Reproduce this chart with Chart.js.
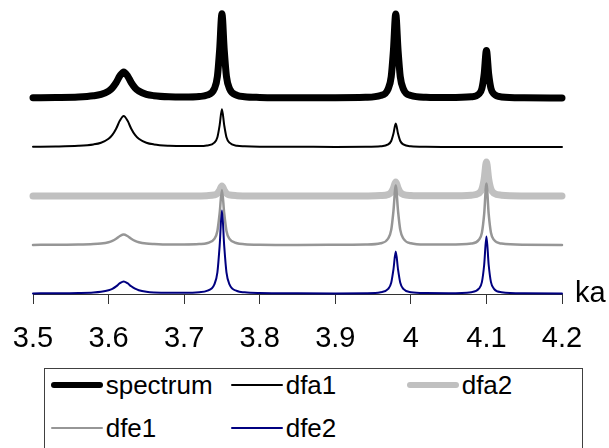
<!DOCTYPE html>
<html>
<head>
<meta charset="utf-8">
<script src="https://cdn.jsdelivr.net/npm/chart.js@4.4.0/dist/chart.umd.min.js"></script>
<style>
  html, body { margin: 0; padding: 0; background: #fff; }
  #wrap { position: relative; width: 609px; height: 448px; overflow: hidden; font-family: "Liberation Sans", Arial, sans-serif; }
  #legend { position: absolute; left: 44px; top: 368px; width: 537px; height: 120px; border: 1px solid #404040; background: #fff; }
  .item { position: absolute; height: 30px; display: flex; align-items: center; }
  .swatch { width: 52px; }
  .item span { font-size: 26px; line-height: 30px; margin-left: 3px; color: #000; white-space: nowrap; }
</style>
</head>
<body>
<div id="wrap">
  <canvas id="chart"></canvas>
  <div id="legend"></div>
</div>
<script>
// x positions (ka) and the stacked traces
const kaValues = [3.50, 3.53, 3.56, 3.58, 3.59, 3.60, 3.605, 3.61, 3.615, 3.62, 3.625, 3.63, 3.635, 3.64, 3.65, 3.66, 3.68, 3.70, 3.72, 3.73,
  3.74, 3.744, 3.747, 3.75, 3.753, 3.756, 3.76, 3.77, 3.78, 3.80, 3.85, 3.90, 3.94, 3.96, 3.97, 3.974, 3.977, 3.98, 3.983, 3.986,
  3.99, 4.00, 4.02, 4.05, 4.08, 4.09, 4.094, 4.097, 4.10, 4.103, 4.106, 4.11, 4.12, 4.15, 4.20];

const spectrum = [196.3, 196.5, 197.0, 198.2, 199.6, 202.9, 206.2, 211.4, 218.2, 222.1, 218.3, 211.4, 206.2, 203.0, 199.7, 198.3, 197.2, 197.0, 197.5, 198.8,
  205.4, 217.5, 244.6, 280.2, 244.6, 217.5, 205.4, 198.7, 197.3, 196.6, 196.2, 196.3, 196.7, 198.5, 205.2, 217.3, 244.4, 280.0, 244.4, 217.3,
  205.2, 198.5, 196.7, 196.4, 197.2, 200.0, 205.5, 219.8, 243.5, 219.8, 205.5, 200.0, 197.1, 196.2, 196.0];

const dfa1 = [147.3, 147.5, 148.2, 149.6, 151.3, 155.2, 159.1, 165.3, 173.4, 178.0, 173.4, 165.3, 159.1, 155.3, 151.3, 149.6, 148.3, 147.9, 147.9, 148.5,
  151.4, 156.8, 168.9, 184.8, 168.9, 156.8, 151.3, 148.3, 147.7, 147.3, 147.2, 147.1, 147.2, 147.7, 149.6, 153.0, 160.5, 170.5, 160.5, 153.0,
  149.6, 147.7, 147.2, 147.1, 147.0, 147.0, 147.0, 147.0, 147.0, 147.0, 147.0, 147.0, 147.0, 147.0, 147.0];

const dfa2 = [98.0, 98.0, 98.0, 98.0, 98.0, 98.0, 98.0, 98.0, 98.0, 98.0, 98.0, 98.0, 98.0, 98.0, 98.0, 98.0, 98.0, 98.0, 98.1, 98.3,
  99.1, 100.5, 103.8, 108.0, 103.8, 100.5, 99.1, 98.3, 98.1, 98.0, 98.0, 98.0, 98.1, 98.4, 99.5, 101.6, 106.1, 112.0, 106.1, 101.6,
  99.6, 98.5, 98.2, 98.2, 98.8, 100.8, 104.8, 115.0, 132.0, 115.0, 104.8, 100.8, 98.8, 98.1, 98.0];

const dfe1 = [49.1, 49.2, 49.4, 49.9, 50.5, 51.8, 53.1, 55.2, 58.0, 59.6, 58.0, 55.2, 53.1, 51.8, 50.5, 50.0, 49.5, 49.5, 49.9, 50.8,
  55.1, 63.1, 80.8, 104.1, 80.8, 63.1, 55.1, 50.7, 49.8, 49.3, 49.1, 49.2, 49.5, 50.8, 55.5, 64.1, 83.3, 108.5, 83.3, 64.1,
  55.5, 50.8, 49.5, 49.4, 50.4, 54.2, 61.3, 79.8, 110.5, 79.8, 61.3, 54.1, 50.4, 49.2, 49.1];

const dfe2 = [0.6, 0.7, 1.0, 1.5, 2.2, 3.7, 5.2, 7.6, 10.8, 12.6, 10.8, 7.7, 5.3, 3.8, 2.3, 1.6, 1.2, 1.2, 1.8, 3.1,
  9.7, 21.7, 48.4, 83.6, 48.4, 21.7, 9.6, 3.0, 1.7, 1.0, 0.7, 0.6, 0.8, 1.8, 5.1, 11.2, 24.7, 42.5, 24.7, 11.2,
  5.1, 1.8, 0.9, 0.8, 1.8, 5.3, 11.9, 29.0, 57.5, 29.0, 11.9, 5.2, 1.8, 0.7, 0.6];

const tickValues = [3.5, 3.6, 3.7, 3.8, 3.9, 4.0, 4.1, 4.2];
const tickLabels = ["3.5", "3.6", "3.7", "3.8", "3.9", "4", "4.1", "4.2"];
const axisUnit = "ka";

function points(ys) {
  return kaValues.map((x, i) => ({ x: x, y: ys[i] }));
}

// "ka" at the right end of the axis
const unitLabel = {
  id: "unitLabel",
  afterDraw(chart) {
    const { ctx, chartArea } = chart;
    ctx.save();
    ctx.font = '29px "Liberation Sans", Arial, sans-serif';
    ctx.fillStyle = "#000";
    ctx.textBaseline = "alphabetic";
    ctx.fillText(axisUnit, chartArea.right + 13, chartArea.bottom + 8);
    ctx.restore();
  }
};

const line = (label, data, color, width, order) => ({
  label, data: points(data), borderColor: color, borderWidth: width, order,
  pointRadius: 0, fill: false, cubicInterpolationMode: "monotone",
  borderCapStyle: "round", borderJoinStyle: "round", clip: false
});

const chart = new Chart(document.getElementById("chart"), {
  type: "line",
  data: {
    datasets: [
      line("spectrum", spectrum, "#000000", 7, 5),
      line("dfa1", dfa1, "#000000", 2, 4),
      line("dfa2", dfa2, "#c0c0c0", 7, 3),
      line("dfe1", dfe1, "#969696", 2.5, 2),
      line("dfe2", dfe2, "#000080", 2, 1)
    ]
  },
  options: {
    responsive: true,
    maintainAspectRatio: false,
    animation: false,
    layout: { padding: { left: 33, right: 47, top: 0, bottom: 73.2 } },
    plugins: { legend: { display: false }, tooltip: { enabled: false } },
    scales: {
      x: {
        type: "linear",
        min: 3.5,
        max: 4.2,
        afterBuildTicks: s => { s.ticks = tickValues.map(v => ({ value: v })); },
        afterFit: s => { s.paddingLeft = 0; s.paddingRight = 0; },
        ticks: {
          autoSkip: false,
          maxRotation: 0,
          padding: 18,
          color: "#000",
          font: { family: '"Liberation Sans", Arial, sans-serif', size: 29 },
          callback: (v, i) => tickLabels[i]
        },
        grid: { drawOnChartArea: false, drawTicks: true, tickLength: 10, tickColor: "#333", tickWidth: 1 },
        border: { display: true, color: "#333", width: 1 }
      },
      y: { display: false, min: 0, max: 294 }
    }
  },
  plugins: [unitLabel]
});

// legend box: three columns, two rows
const legendEl = document.getElementById("legend");
const cols = [5.7, 185.7, 361.7];
const rows = [1, 44];
chart.data.datasets.forEach((ds, i) => {
  const item = document.createElement("div");
  item.className = "item";
  item.style.left = cols[i % 3] + "px";
  item.style.top = rows[Math.floor(i / 3)] + "px";
  const sw = document.createElement("div");
  sw.className = "swatch";
  const h = ds.borderWidth > 4 ? 6 : 2;
  sw.style.height = h + "px";
  sw.style.borderRadius = (h / 2) + "px";
  sw.style.background = ds.borderColor;
  const txt = document.createElement("span");
  txt.textContent = ds.label;
  item.appendChild(sw);
  item.appendChild(txt);
  legendEl.appendChild(item);
});
</script>
</body>
</html>
